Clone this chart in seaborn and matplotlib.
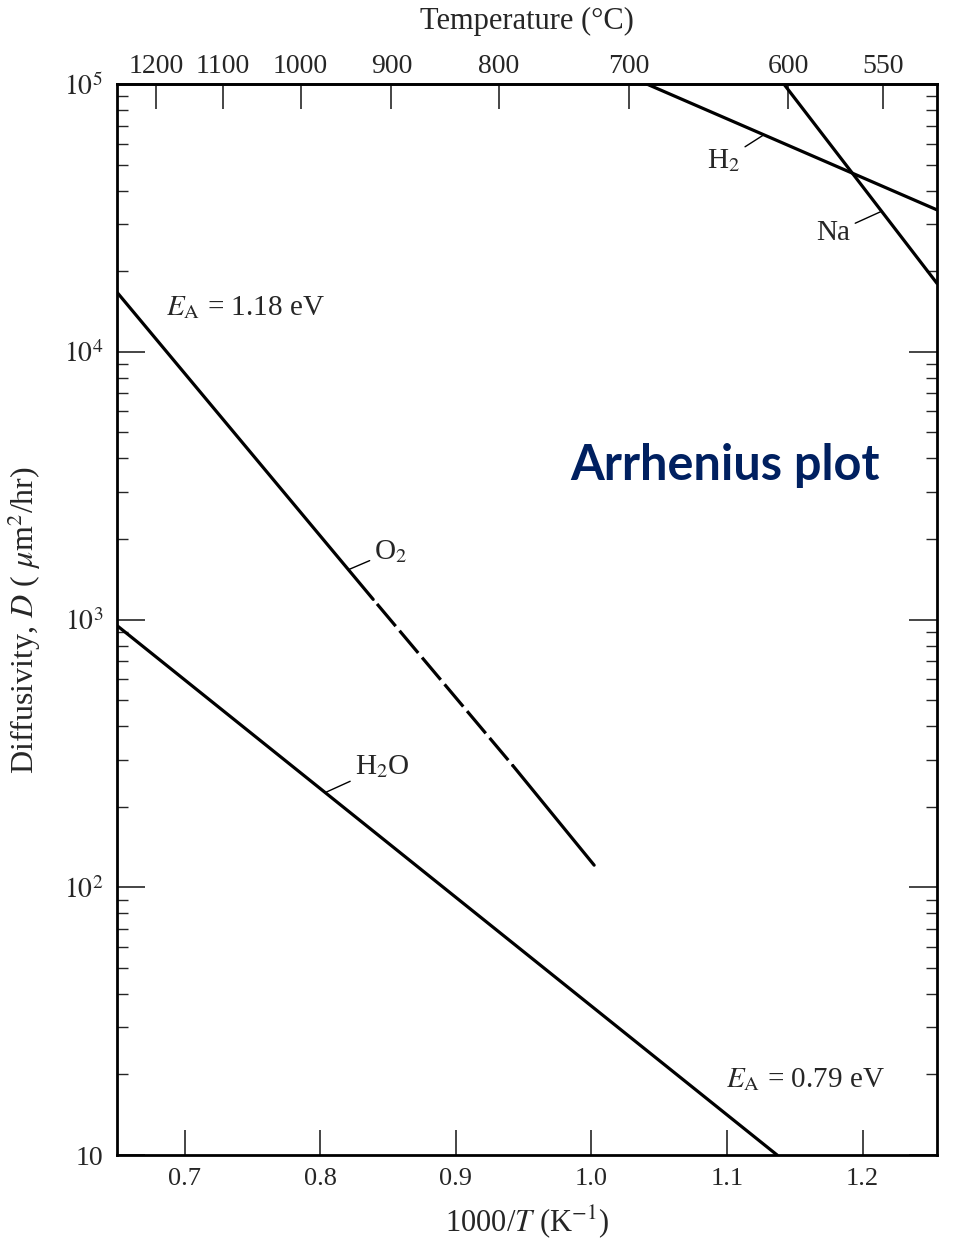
import numpy as np
import pandas as pd
import seaborn as sns
import matplotlib.pyplot as plt
from matplotlib.ticker import FixedLocator, FixedFormatter, LogLocator, NullFormatter

# values: x = 1000/T (1/K), D in um^2/hr
o2_x = [0.65, 0.839, 0.942, 1.002]
o2_d = [16700, 1190, 285, 121]
h2o_x = [0.65, 1.137]
h2o_d = [950, 10]
h2_x = [1.041, 1.255]
h2_d = [100000, 33900]
na_x = [1.142, 1.255]
na_d = [100000, 18000]

x_ticks = [0.7, 0.8, 0.9, 1.0, 1.1, 1.2]
x_labels = ["0.7", "0.8", "0.9", "1.0", "1.1", "1.2"]
y_ticks = [10, 1e2, 1e3, 1e4, 1e5]
y_labels = ["10", "$10^2$", "$10^3$", "$10^4$", "$10^5$"]
temp_ticks = [1200, 1100, 1000, 900, 800, 700, 600, 550]

# segments (O2 has a dashed middle part)
rows = []
def add(name, xs, ds, kind):
    for x, d in zip(xs, ds):
        rows.append({"seg": name, "x": x, "D": d, "kind": kind})

add("o2_a", o2_x[0:2], o2_d[0:2], "solid")
add("o2_b", o2_x[1:3], o2_d[1:3], "dashed")
add("o2_c", o2_x[2:4], o2_d[2:4], "solid")
add("h2o", h2o_x, h2o_d, "solid")
add("h2", h2_x, h2_d, "solid")
add("na", na_x, na_d, "solid")
df = pd.DataFrame(rows)

sns.set_style("white")
plt.rcParams["font.family"] = ["Liberation Serif", "DejaVu Serif"]
plt.rcParams["mathtext.fontset"] = "stix"
plt.rcParams["lines.scale_dashes"] = False

fig = plt.figure(figsize=(9.66, 12.54), dpi=100)
ax = fig.add_axes([0.1211, 0.0789, 0.849, 0.854])

# dash pattern (points): gap first, so the break shows after the solid part
sns.lineplot(data=df, x="x", y="D", units="seg", estimator=None, sort=False,
             style="kind", dashes={"solid": "", "dashed": (0, 4.3, 20.9, 0)},
             color="black", lw=2.3, legend=False, ax=ax)

ax.set_yscale("log")
ax.set_xlim(0.65, 1.255)
ax.set_ylim(10, 1e5)

ax.xaxis.set_major_locator(FixedLocator(x_ticks))
ax.xaxis.set_major_formatter(FixedFormatter(x_labels))
ax.yaxis.set_major_locator(FixedLocator(y_ticks))
ax.yaxis.set_major_formatter(FixedFormatter(y_labels))
ax.yaxis.set_minor_locator(LogLocator(base=10, subs=np.arange(2, 10)))
ax.yaxis.set_minor_formatter(NullFormatter())

for sp in ax.spines.values():
    sp.set_linewidth(2)
    sp.set_color("black")

ax.tick_params(axis="x", which="major", bottom=True, top=False, direction="in",
               length=18, width=1.2, pad=9, labelsize=19)
ax.tick_params(axis="y", which="major", left=True, right=True, direction="in",
               length=20, width=1.2, pad=10, labelsize=20)
ax.tick_params(axis="y", which="minor", left=True, right=True, direction="in",
               length=8, width=1.0)

ax.set_xlabel(r"1000/$T$ (K$^{-1}$)", fontsize=22, labelpad=10)
ax.set_ylabel(r"Diffusivity, $D$ ( $\mu$m$^2$/hr)", fontsize=23, labelpad=15)


def to_c(x):
    x = np.asarray(x, dtype=float)
    with np.errstate(divide="ignore"):
        return 1000.0 / x - 273.15


def to_x(t):
    t = np.asarray(t, dtype=float)
    with np.errstate(divide="ignore"):
        return 1000.0 / (t + 273.15)


secax = ax.secondary_xaxis("top", functions=(to_c, to_x))
secax.xaxis.set_major_locator(FixedLocator(temp_ticks))
secax.xaxis.set_major_formatter(FixedFormatter([str(t) for t in temp_ticks]))
secax.xaxis.set_minor_locator(FixedLocator([]))
secax.tick_params(axis="x", direction="in", length=18, width=1.2, pad=4, labelsize=20)
secax.set_xlabel("Temperature (°C)", fontsize=22, labelpad=18)
secax.spines["top"].set_linewidth(2)

# curve labels with short leader lines
lead = dict(arrowstyle="-", lw=1.0, color="black", shrinkA=1, shrinkB=0)
ax.annotate("H$_2$", xy=(1.127, 64600), xytext=(1.0978, 52000),
            ha="center", va="center", fontsize=21, arrowprops=lead)
ax.annotate("Na", xy=(1.214, 33500), xytext=(1.1787, 27800),
            ha="center", va="center", fontsize=21, arrowprops=lead)
ax.annotate("O$_2$", xy=(0.8206, 1535), xytext=(0.852, 1795),
            ha="center", va="center", fontsize=21, arrowprops=lead)
ax.annotate("H$_2$O", xy=(0.8037, 226), xytext=(0.8456, 282),
            ha="center", va="center", fontsize=21, arrowprops=lead)

ax.text(0.686, 14600, r"$E_{\mathrm{A}}$ = 1.18 eV", ha="left", va="center", fontsize=21)
ax.text(1.0993, 19.2, r"$E_{\mathrm{A}}$ = 0.79 eV", ha="left", va="center", fontsize=21)

ax.text(0.741, 0.644, "Arrhenius plot", transform=ax.transAxes, ha="center",
        va="center", fontsize=35, fontweight="bold", color="#002060",
        family=["Lato", "DejaVu Sans"])

fig.savefig("out.png", dpi=100)
